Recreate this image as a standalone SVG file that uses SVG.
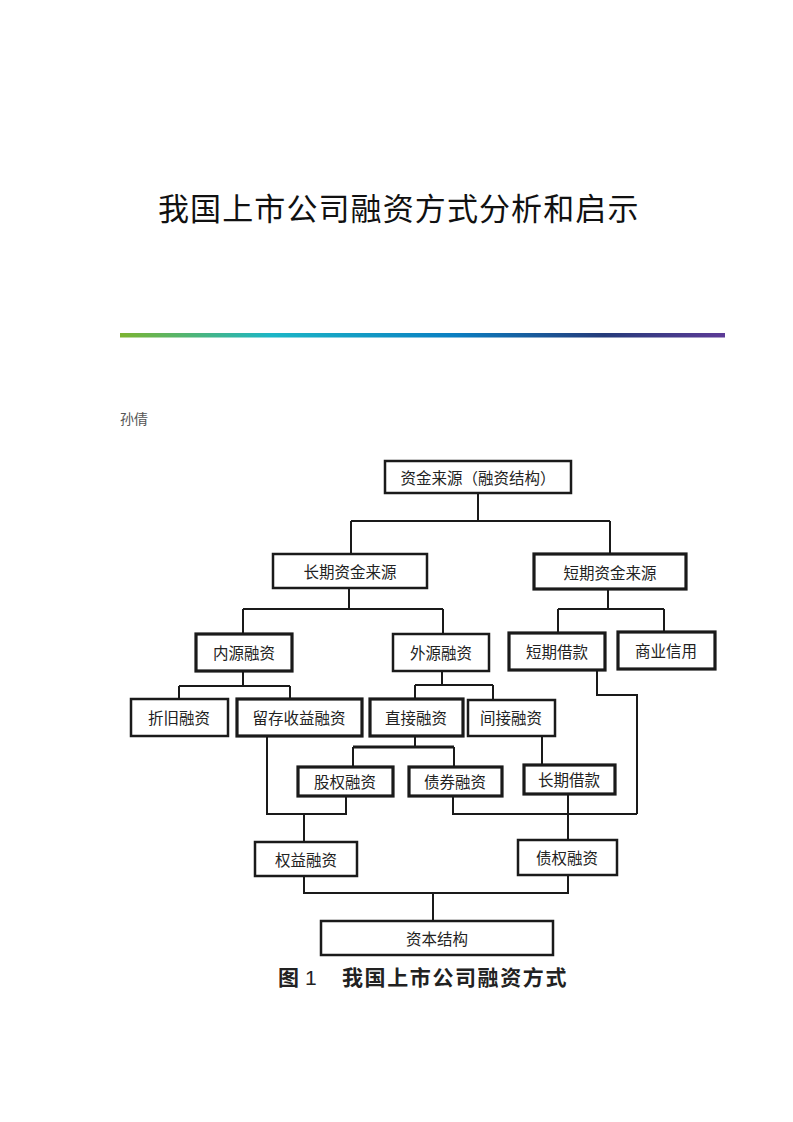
<svg xmlns="http://www.w3.org/2000/svg" width="793" height="1122" viewBox="0 0 793 1122">
<defs>
<linearGradient id="bar" x1="0" y1="0" x2="1" y2="0">
<stop offset="0" stop-color="#7cb431"/>
<stop offset="0.25" stop-color="#1cb6c6"/>
<stop offset="0.55" stop-color="#0a7fc2"/>
<stop offset="0.8" stop-color="#253b7a"/>
<stop offset="1" stop-color="#5d3b97"/>
</linearGradient>
</defs>
<style>
.box{fill:#fff;stroke:#1a1a1a;stroke-width:2.5}
.thick{stroke-width:3.2}
.lbl{font-family:"Noto Sans CJK SC","Noto Sans CJK JP",sans-serif;font-size:15.5px;fill:#222;text-anchor:middle;dominant-baseline:central}
.ln{fill:none;stroke:#1a1a1a;stroke-width:2}
</style>
<rect width="793" height="1122" fill="#fff"/>
<text x="158" y="220" font-family="Noto Sans CJK SC, sans-serif" font-size="31" letter-spacing="1.1" fill="#111">我国上市公司融资方式分析和启示</text>
<rect x="120" y="333" width="605" height="4.5" fill="url(#bar)"/>
<text x="120" y="424" font-family="Noto Sans CJK SC, sans-serif" font-size="14" fill="#555">孙倩</text>
<g id="connectors">
<path class="ln" d="M478 493V521M351 521H610M351 521V554M610 521V554"/>
<path class="ln" d="M349 588V609M243 609H443M243 609V634M443 609V634"/>
<path class="ln" d="M608 589V609M558 609H664M558 609V633M664 609V632"/>
<path class="ln" d="M243 671V686M179 686H290M179 686V699M290 686V699"/>
<path class="ln" d="M442 671V685M415 685H493M415 685V699M493 685V700"/>
<path class="ln" d="M415 736V747"/>
<path class="ln" style="stroke-width:3.2" d="M353 747H454"/>
<path class="ln" d="M353 747V767M454 747V767"/>
<path class="ln" d="M542 736V765"/>
<path class="ln" d="M597 670V695H637V814"/>
<path class="ln" d="M267 736V814H346V796"/>
<path class="ln" d="M304 814V842"/>
<path class="ln" d="M453 795V814H637"/>
<path class="ln" d="M568 794V840"/>
<path class="ln" d="M304 876V893H568V875"/>
<path class="ln" d="M433 893V921"/>
</g>
<g id="n_root"><rect class="box" x="385" y="461" width="186" height="32"/><text class="lbl" x="478" y="477">资金来源（融资结构）</text></g>
<g id="n_long"><rect class="box" x="273" y="554" width="154" height="34"/><text class="lbl" x="350" y="571">长期资金来源</text></g>
<g id="n_short"><rect class="box thick" x="534" y="554" width="152" height="35"/><text class="lbl" x="610" y="572">短期资金来源</text></g>
<g id="n_internal"><rect class="box thick" x="196" y="634" width="96" height="37"/><text class="lbl" x="244" y="652">内源融资</text></g>
<g id="n_external"><rect class="box" x="393" y="634" width="96" height="37"/><text class="lbl" x="441" y="652">外源融资</text></g>
<g id="n_stloan"><rect class="box thick" x="509" y="633" width="96" height="37"/><text class="lbl" x="557" y="651">短期借款</text></g>
<g id="n_credit"><rect class="box thick" x="618" y="632" width="97" height="37"/><text class="lbl" x="666" y="650">商业信用</text></g>
<g id="n_dep"><rect class="box" x="131" y="699" width="97" height="37"/><text class="lbl" x="179" y="717">折旧融资</text></g>
<g id="n_retained"><rect class="box thick" x="237" y="699" width="125" height="37"/><text class="lbl" x="299" y="717">留存收益融资</text></g>
<g id="n_direct"><rect class="box thick" x="370" y="699" width="93" height="37"/><text class="lbl" x="416" y="717">直接融资</text></g>
<g id="n_indirect"><rect class="box" x="468" y="700" width="87" height="36"/><text class="lbl" x="511" y="717">间接融资</text></g>
<g id="n_equity"><rect class="box thick" x="298" y="767" width="95" height="29"/><text class="lbl" x="345" y="781">股权融资</text></g>
<g id="n_bond"><rect class="box thick" x="409" y="767" width="93" height="29"/><text class="lbl" x="455" y="781">债券融资</text></g>
<g id="n_ltloan"><rect class="box thick" x="524" y="765" width="91" height="29"/><text class="lbl" x="569" y="779">长期借款</text></g>
<g id="n_eqfin"><rect class="box" x="255" y="842" width="102" height="34"/><text class="lbl" x="306" y="859">权益融资</text></g>
<g id="n_debtfin"><rect class="box" x="518" y="840" width="99" height="35"/><text class="lbl" x="567" y="857">债权融资</text></g>
<g id="n_capital"><rect class="box" x="321" y="921" width="232" height="34"/><text class="lbl" x="437" y="938">资本结构</text></g>
<g id="caption" font-family="Noto Sans CJK SC, sans-serif" font-size="21" font-weight="bold" fill="#222">
<text x="278" y="985">图</text>
<text x="305" y="985" font-family="Liberation Sans, sans-serif" font-weight="normal">1</text>
<text x="342" y="985" letter-spacing="1.6">我国上市公司融资方式</text>
</g>
</svg>
